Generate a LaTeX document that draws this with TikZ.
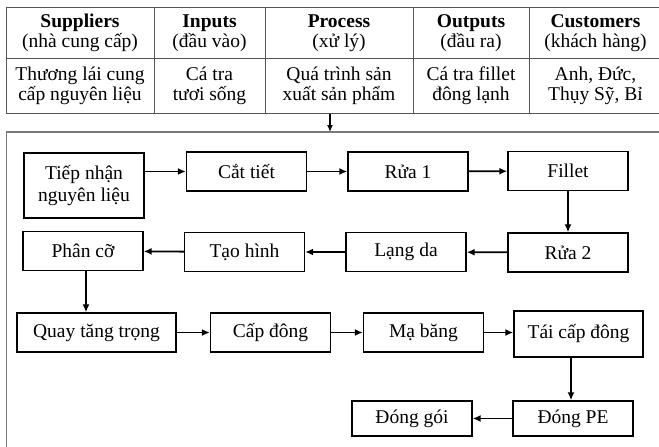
\documentclass[tikz,border=0pt]{standalone}
\usepackage{fontspec}
\setmainfont{Liberation Serif}
\usetikzlibrary{arrows.meta}

\definecolor{linegray}{RGB}{85,85,85}
\definecolor{framegray}{RGB}{120,120,120}

\begin{document}
\begin{tikzpicture}[x=1pt,y=-1pt]

	\tikzstyle{stepbox} = [draw=black, line width=1.3pt, minimum width=120pt, minimum height=39pt, inner sep=2pt, align=center, font=\fontsize{19.5}{22}\selectfont]
	\tikzstyle{cell} = [align=center, inner sep=0pt, font=\fontsize{19.5}{20}\selectfont]
	\tikzstyle{flow} = [-{Latex[length=8pt,width=7pt]}, line width=1.8pt]

	\useasboundingbox (0,0) rectangle (659,447);

%------------------------------------------------------------
	% SIPOC table
	\draw[linegray, line width=1pt] (6,7) -- (664,7) (6,58) -- (664,58) (6,113) -- (664,113);
	\foreach \x in {6,154,265,413,529}
		\draw[linegray, line width=1pt] (\x,7) -- (\x,113);

	\node[cell] (hsup) at (80,33) {\textbf{Suppliers}\\(nhà cung cấp)};
	\node[cell] (hin) at (209.5,33) {\textbf{Inputs}\\(đầu vào)};
	\node[cell] (hproc) at (339,33) {\textbf{Process}\\(xử lý)};
	\node[cell] (hout) at (471,33) {\textbf{Outputs}\\(đầu ra)};
	\node[cell] (hcus) at (595.5,33) {\textbf{Customers}\\(khách hàng)};

	\node[cell] (csup) at (80,86) {Thương lái cung\\cấp nguyên liệu};
	\node[cell] (cin) at (209.5,86) {Cá tra\\tươi sống};
	\node[cell] (cproc) at (339,86) {Quá trình sản\\xuất sản phẩm};
	\node[cell] (cout) at (471,86) {Cá tra fillet\\đông lạnh};
	\node[cell] (ccus) at (595.5,86) {Anh, Đức,\\Thụy Sỹ, Bỉ};

	\coordinate (tbot) at (330,113.5);
	\coordinate (ftop) at (330,132);
	\path[-{Latex[length=7pt,width=6pt]}, line width=1.5pt] (tbot) edge (ftop);

	% frame round the process steps
	\draw[framegray, line width=1.5pt] (664,132) -- (6.5,132) -- (6.5,452);

%------------------------------------------------------------
	\node[stepbox, minimum height=65pt] (tiep) at (84,185.5) {Tiếp nhận\\nguyên liệu};
	\node[stepbox] (cat) at (246.5,171.5) {Cắt tiết};
	\node[stepbox] (rua1) at (408,171.5) {Rửa 1};
	\node[stepbox] (fillet) at (568,171) {Fillet};

	\path[flow] (tiep.east |- cat.west) edge (cat.west);
	\path[flow] (cat) edge (rua1);
	\path[flow] (rua1) edge (fillet);

%------------------------------------------------------------
	\node[stepbox] (rua2) at (568,252.5) {Rửa 2};
	\node[stepbox] (lang) at (406,252) {Lạng da};
	\node[stepbox] (tao) at (244.5,252) {Tạo hình};
	\node[stepbox] (phan) at (83,251) {Phân cỡ};

	\path[flow] (fillet) edge (rua2);
	\path[flow] (rua2) edge (lang);
	\path[flow] (lang) edge (tao);
	\path[flow] (tao) edge (phan);

%------------------------------------------------------------
	\node[stepbox, minimum width=159pt] (quay) at (96.5,332.5) {Quay tăng trọng};
	\node[stepbox] (capdong) at (270.5,332.5) {Cấp đông};
	\node[stepbox] (mabang) at (423.5,332.5) {Mạ băng};
	\node[stepbox, minimum width=129pt, minimum height=46pt] (taicap) at (578.5,334) {Tái cấp đông};

	\path[flow] (phan.south -| 86,0) edge (quay.north -| 86,0);
	\path[flow] (quay) edge (capdong);
	\path[flow] (capdong) edge (mabang);
	\path[flow] (mabang.east) edge (mabang.east -| taicap.west);

%------------------------------------------------------------
	\node[stepbox, minimum height=35pt] (dongpe) at (573,418.5) {Đóng PE};
	\node[stepbox, minimum height=35pt] (donggoi) at (412,418.5) {Đóng gói};

	\path[flow] (taicap.south -| 571,0) edge (dongpe.north -| 571,0);
	\path[flow] (dongpe) edge (donggoi);

\end{tikzpicture}
\end{document}
